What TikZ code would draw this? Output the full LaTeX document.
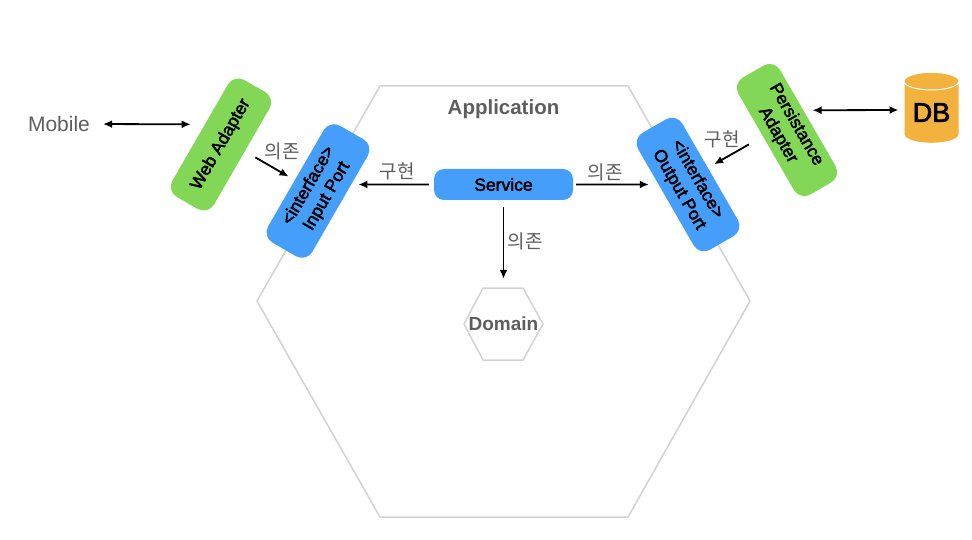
\documentclass[tikz,border=0pt]{standalone}
\usepackage{fontspec}
\setmainfont{Liberation Sans}
\newfontfamily\medfont[FakeBold=2.5]{Liberation Sans}
\newfontfamily\krfont{Noto Sans CJK KR}
\usetikzlibrary{arrows.meta,shapes.geometric}

\definecolor{hexline}{HTML}{D2D2D2}
\definecolor{labelgray}{HTML}{5E5E5E}
\definecolor{adaptergreen}{HTML}{82D756}
\definecolor{portblue}{HTML}{469EFB}
\definecolor{dborange}{HTML}{F3B23E}

\tikzset{
	adapter/.style={fill=adaptergreen,rounded corners=12pt,minimum width=135pt,minimum height=48pt,inner sep=0pt,align=center,font=\medfont\fontsize{17.5}{21}\selectfont},
	port/.style={fill=portblue,rounded corners=12pt,minimum width=135pt,minimum height=51pt,inner sep=0pt,align=center,font=\medfont\fontsize{17.5}{21}\selectfont},
	lab/.style={inner sep=0pt,text=labelgray,font=\krfont\fontsize{19}{19}\selectfont},
	hexa/.style={draw=hexline,line width=1.5pt,line join=round},
	dep/.style={line width=1.8pt,-{Latex[length=9pt,width=8pt]}},
	both/.style={line width=1.8pt,{Latex[length=9pt,width=8pt]}-{Latex[length=9pt,width=8pt]}}
}

\begin{document}
\begin{tikzpicture}
			[x=1pt,y=-1pt]
			\useasboundingbox (0,0) rectangle (972,540);
			\draw[hexa] (380,86) -- (628,86) -- (750,301) -- (628,517) -- (380,517) -- (257,301) -- cycle;
			\draw[hexa] (483,288) -- (523,288) -- (543,324) -- (523,360) -- (483,360) -- (464,324) -- cycle;

			\node[inner sep=0pt,text=labelgray,font=\fontsize{20.5}{20.5}\selectfont\bfseries] (app) at (503.5,109) {Application};
			\node[inner sep=0pt,text=labelgray,font=\fontsize{19}{19}\selectfont\bfseries,minimum width=79pt,minimum height=72pt] (domain) at (503.5,324) {Domain};
			\node[inner sep=0pt,text=labelgray,font=\fontsize{21}{21}\selectfont] (mobile) at (59,124) {Mobile};

			\node[adapter,rotate=60] (web) at (221,144.5) {Web Adapter};
			\node[adapter,rotate=-60] (persist) at (787,130) {Persistance\\Adapter};
			\node[port,rotate=60] (inport) at (318,191) {<interface>\\Input Port};
			\node[port,rotate=-60] (outport) at (688,184.5) {<interface>\\Output Port};
			\node[fill=portblue,rounded corners=10pt,minimum width=139pt,minimum height=31pt,inner sep=0pt,font=\medfont\fontsize{17.5}{17.5}\selectfont] (service) at (503.5,184.5) {Service};
			\node[cylinder,shape border rotate=90,aspect=0.47,minimum width=55pt,minimum height=71pt,inner sep=0pt,draw=white,line width=1pt,cylinder uses custom fill,cylinder body fill=dborange,cylinder end fill=dborange,font=\medfont\fontsize{27}{27}\selectfont] (db) at (931.5,112.5) {DB};

			\node[lab] (dep_web) at (282,151) {의존};
			\node[lab] (impl_in) at (397,171) {구현};
			\node[lab] (dep_out) at (605,172) {의존};
			\node[lab] (impl_out) at (722,139) {구현};
			\node[lab] (dep_dom) at (525,241) {의존};

			\path
			(mobile.east) 	edge [both,shorten <=13pt,shorten >=14pt] (web.69)
			(web.-76) 		edge [dep,shorten <=12pt,shorten >=7pt] (inport.95)
			(service.west) 	edge [dep,shorten <=5pt,shorten >=7pt] (inport.-49)
			(service.east) 	edge [dep,shorten <=3pt,shorten >=9.5pt] (outport.-120)
			(persist.-105) 	edge [dep,shorten <=16pt,shorten >=7pt] (outport.100)
			(persist.110) 	edge [both,shorten <=9pt,shorten >=5pt] ([yshift=2.5pt]db.west)
			(service.south) edge [dep,shorten <=7pt,shorten >=9pt] (domain.north)
			;
		\end{tikzpicture}
\end{document}
